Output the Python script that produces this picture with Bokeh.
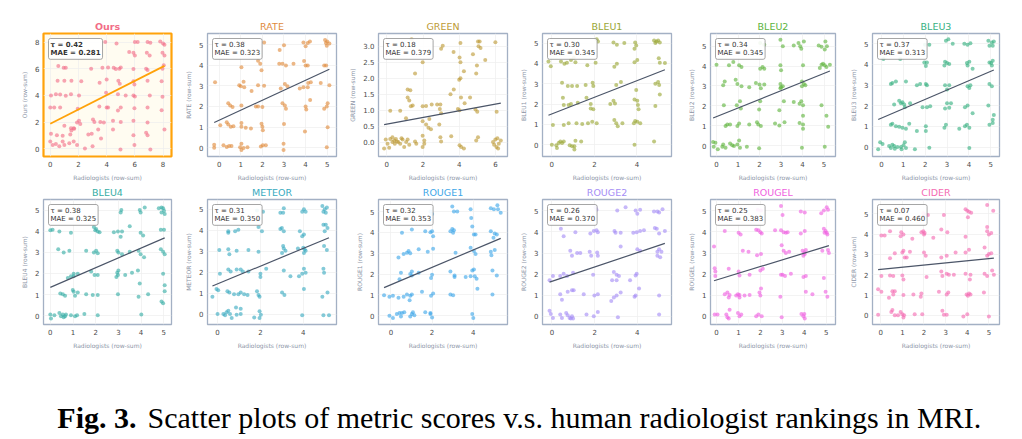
from bokeh.plotting import figure
from bokeh.layouts import row, column
from bokeh.models import Label, Range1d, FixedTicker, PrintfTickFormatter
from bokeh.embed import file_html
from bokeh.resources import INLINE
from bokeh.core.properties import value

# ---------------------------------------------------------------- data
PANELS = ["Ours", "RATE", "GREEN", "BLEU1", "BLEU2", "BLEU3",
          "BLEU4", "METEOR", "ROUGE1", "ROUGE2", "ROUGEL", "CIDER"]

TAU = [0.42, 0.38, 0.18, 0.30, 0.34, 0.37, 0.38, 0.31, 0.32, 0.26, 0.25, 0.07]
MAE = [0.281, 0.323, 0.379, 0.345, 0.345, 0.313, 0.325, 0.350, 0.353, 0.370, 0.383, 0.460]

# fitted regression line for each metric (intercept, slope)
FIT_INTERCEPT = [1.88, 1.33, 0.566, 1.515, 1.454, 1.40, 1.34, 1.44, 1.49, 1.655, 1.72, 2.27]
FIT_SLOPE = [0.535, 0.485, 0.104, 0.408, 0.436, 0.454, 0.465, 0.424, 0.417, 0.341, 0.319, 0.105]

# (radiologist row-sum, metric row-sum) per case, with jitter
OURS_POINTS = [
    (3.9, 8.0), (4.7, 7.9), (6.0, 8.0), (6.2, 8.0), (6.9, 8.0), (7.1, 7.95), (7.8, 8.05), (8.0, 7.9), (8.1, 7.8),
    (0.45, 7.1), (5.6, 7.26), (5.9, 7.2), (6.0, 7.0), (6.85, 7.2), (7.05, 7.0), (7.96, 7.2), (8.1, 7.0),
    (0.57, 6.2), (0.95, 6.07), (1.1, 6.07), (2.9, 6.0), (3.7, 6.07), (4.1, 6.1), (4.5, 6.07), (4.65, 5.98),
    (4.9, 6.0), (5.0, 6.1), (5.9, 5.98), (6.8, 6.0), (6.9, 5.9), (7.96, 6.0), (8.05, 6.26),
    (0.52, 5.1), (1.0, 5.1), (1.5, 5.1), (2.2, 5.07), (3.5, 4.95), (4.0, 5.2), (4.83, 5.1), (4.93, 4.88),
    (5.9, 5.07), (5.97, 4.83), (6.9, 5.1), (7.9, 5.07),
    (0.05, 4.0), (0.4, 4.1), (0.7, 4.07), (1.1, 3.98), (1.47, 4.1), (2.04, 4.0), (3.96, 4.2), (4.8, 4.1),
    (5.35, 4.0), (5.9, 4.0), (6.0, 3.93), (7.06, 4.0), (7.96, 3.9),
    (0.0, 3.1), (0.28, 3.1), (0.7, 3.1), (1.95, 3.0), (3.48, 3.17), (4.0, 3.1), (4.1, 3.1), (4.8, 2.88),
    (5.0, 3.1), (5.97, 3.05), (6.9, 3.1), (7.9, 2.9),
    (1.0, 1.74), (1.47, 1.55), (1.66, 1.55), (1.9, 1.98), (2.04, 2.1), (2.13, 1.86), (3.03, 2.2), (3.13, 2.02),
    (3.55, 2.02), (3.8, 1.98), (4.45, 2.1), (5.0, 2.02), (5.9, 2.1), (6.9, 1.98),
    (0.05, 1.14), (0.47, 1.02), (0.88, 0.98), (1.42, 1.07), (1.5, 1.38), (1.7, 1.5), (2.7, 1.07), (2.94, 1.14),
    (3.4, 1.45), (4.45, 1.45), (5.9, 1.02), (6.8, 1.21), (6.9, 1.02), (8.1, 1.45),
    (0.0, 0.55), (0.17, 0.3), (0.4, 0.36), (0.64, 0.19), (1.0, 0.3), (1.35, 0.43), (1.66, 0.55), (1.9, 0.3),
    (2.46, 0.02), (3.0, 0.19), (3.6, 0.78), (4.98, -0.05), (5.97, 0.3), (7.1, -0.05), (0.88, 0.55),
]

RATE_POINTS = [
    (1.13, 5.1), (2.08, 5.1), (3.0, 4.97), (2.8, 4.74), (3.9, 5.1), (4.1, 5.08), (4.2, 5.15), (4.0, 4.92),
    (4.9, 5.23), (4.94, 5.08), (5.0, 5.15), (5.1, 5.05), (4.98, 4.95),
    (1.03, 3.9), (1.8, 4.22), (1.9, 4.07), (1.96, 3.76), (2.78, 4.07), (2.93, 4.07), (3.09, 3.99), (3.44, 4.07),
    (3.93, 4.2), (4.0, 3.99), (4.1, 3.99), (4.86, 3.99), (4.95, 3.99),
    (-0.19, 3.17), (0.93, 3.03), (1.0, 2.98), (1.13, 3.2), (1.16, 2.93), (1.5, 2.75), (1.8, 3.03), (2.08, 3.01),
    (3.04, 3.09), (3.16, 2.98), (2.85, 2.87), (3.73, 2.87), (3.9, 2.93), (4.1, 2.93), (4.12, 3.14), (4.24, 3.17),
    (4.7, 3.14), (5.1, 3.03),
    (0.42, 2.16), (0.51, 2.05), (0.62, 1.97), (1.03, 2.05), (1.7, 2.0), (1.8, 2.0), (2.0, 1.97), (2.93, 2.16),
    (3.04, 2.05), (3.09, 1.89), (4.0, 2.0), (4.03, 1.85), (4.21, 2.31), (4.86, 1.89), (4.98, 2.0), (5.02, 2.16),
    (0.05, 1.09), (0.35, 1.23), (0.42, 1.12), (0.54, 1.01), (0.66, 1.04), (1.03, 1.2), (1.03, 1.01), (1.23, 0.96),
    (1.47, 0.93), (1.96, 1.16), (2.0, 1.01), (2.02, 0.84), (3.0, 1.15), (3.97, 0.78), (5.02, 0.99),
    (-0.23, 0.14), (-0.23, 0.0), (0.2, 0.11), (0.35, 0.03), (0.46, 0.08), (0.57, 0.08), (0.97, 0.02), (1.03, 0.19),
    (1.03, -0.12), (1.13, -0.02), (1.31, 0.02), (1.93, 0.06), (2.02, 0.11), (2.16, 0.11), (2.98, 0.19),
    (2.98, -0.12), (4.98, 0.02),
]

GREEN_POINTS = [
    (1.37, 3.22), (1.98, 2.5), (1.56, 2.15), (3.0, 2.92), (3.09, 3.02), (3.69, 2.82), (4.07, 3.1), (4.02, 2.65),
    (4.07, 2.5), (4.26, 2.22), (4.76, 2.75), (5.04, 3.15), (5.13, 3.15), (5.07, 3.0), (5.18, 2.95), (4.98, 2.4),
    (4.94, 2.15), (5.44, 2.57), (6.0, 3.13), (4.0, 1.95), (4.07, 2.0), (3.7, 1.65), (3.52, 1.5), (4.1, 1.4),
    (4.3, 1.22), (4.6, 1.4), (3.93, 1.04), (4.02, 1.0), (4.9, 1.02), (5.0, 0.95), (6.07, 0.95),
    (0.19, 0.98), (0.74, 0.98), (1.06, 0.75), (1.15, 1.65), (1.3, 1.62), (1.15, 1.4), (1.24, 1.3), (1.33, 1.12),
    (1.43, 1.15), (1.98, 1.12), (2.17, 1.13), (2.48, 1.18), (2.78, 1.18), (2.93, 1.04), (2.96, 1.18), (3.0, 0.9),
    (1.98, 0.65), (2.17, 0.55), (2.3, 0.45), (2.44, 0.4), (2.9, 0.55), (2.35, 0.72),
    (-0.06, 0.08), (0.04, -0.05), (0.13, -0.18), (0.19, 0.1), (0.31, 0.0), (0.41, 0.05), (0.44, -0.05),
    (0.5, 0.1), (0.56, 0.02), (0.63, 0.0), (0.74, -0.05), (0.87, 0.08), (0.96, -0.15), (1.07, 0.0), (1.15, 0.08),
    (0.31, 0.15), (0.81, 0.12), (1.24, -0.08), (1.56, 0.02), (1.63, -0.05), (1.98, 0.2), (2.07, 0.05),
    (1.98, -0.15), (2.07, -0.05), (3.0, 0.02), (2.96, 0.15), (3.56, 0.18), (4.02, -0.1), (4.11, -0.15),
    (4.26, -0.2), (4.94, 0.05), (5.04, 0.15), (5.87, 0.0), (5.93, -0.08), (6.0, 0.08), (6.06, -0.15),
    (6.11, 0.12), (6.19, -0.05), (6.3, 0.05), (6.15, -0.2), (-0.15, -0.2),
]

BLEU1_POINTS = [
    (2.11, 5.19), (2.17, 5.08), (2.9, 5.03), (3.06, 4.92), (3.41, 5.0), (3.92, 5.03), (3.97, 4.88), (3.89, 4.72),
    (4.81, 5.13), (4.92, 5.08), (5.0, 5.13), (5.08, 5.03), (4.87, 5.0),
    (-0.16, 4.09), (-0.05, 3.86), (0.43, 4.09), (0.59, 3.98), (0.71, 4.03), (0.9, 4.17), (1.03, 4.28),
    (1.11, 4.06), (1.67, 3.91), (2.06, 4.03), (2.94, 3.83), (3.06, 3.98), (3.89, 4.06), (4.02, 4.17),
    (5.03, 4.25), (5.08, 4.03), (5.32, 4.02),
    (0.48, 3.05), (0.75, 2.89), (0.95, 2.89), (1.19, 2.89), (1.59, 2.94), (1.92, 3.05), (1.95, 2.89),
    (3.03, 2.94), (3.25, 3.09), (3.97, 2.69), (4.87, 3.0), (5.0, 3.09), (5.05, 2.94),
    (0.52, 2.31), (0.56, 1.95), (0.79, 1.95), (0.9, 2.0), (1.22, 2.06), (1.63, 2.31), (1.83, 2.0), (1.83, 1.78),
    (1.95, 1.75), (2.75, 2.0), (2.9, 2.16), (2.97, 2.03), (3.89, 2.22), (4.02, 2.16), (4.05, 1.95),
    (4.08, 1.75), (4.87, 1.91), (5.08, 2.47),
    (0.05, 0.97), (0.56, 0.97), (0.79, 1.06), (1.16, 1.06), (1.43, 1.02), (1.7, 1.06), (1.9, 1.13), (2.11, 1.06),
    (2.94, 1.22), (3.03, 1.06), (3.1, 0.91), (3.32, 1.06), (3.86, 1.06), (3.92, 1.17), (4.02, 1.13), (4.16, 1.06),
    (0.0, 0.0), (0.21, -0.03), (0.32, 0.08), (0.4, 0.16), (0.48, 0.08), (0.56, 0.16), (0.24, -0.16),
    (0.84, -0.03), (0.95, -0.08), (1.06, -0.08), (1.11, 0.19), (1.06, -0.23), (1.38, 0.16), (3.89, 0.0),
    (4.81, 0.16),
]

BLEU2_POINTS = [
    (2.03, 5.16), (2.22, 5.08), (2.97, 5.32), (3.08, 5.0), (3.59, 5.03), (3.81, 5.16), (3.89, 5.0), (3.94, 4.87),
    (4.06, 5.24), (4.75, 5.03), (4.88, 4.97), (5.06, 5.24), (5.13, 5.0), (5.03, 4.84),
    (0.0, 4.07), (0.58, 4.04), (0.78, 4.2), (1.05, 4.04), (1.16, 3.95), (2.03, 3.87), (2.14, 3.95), (2.22, 3.87),
    (2.97, 4.04), (3.0, 3.79), (4.02, 4.04), (4.8, 3.91), (4.88, 4.07), (4.95, 4.12), (5.03, 4.04), (5.11, 3.95),
    (5.27, 4.07),
    (0.31, 3.04), (0.38, 3.23), (0.89, 3.31), (0.97, 3.1), (1.16, 2.99), (1.52, 2.94), (1.83, 3.15), (2.0, 3.07),
    (2.06, 2.88), (2.22, 3.07), (2.97, 3.1), (3.0, 2.94), (3.08, 2.99), (2.97, 2.88), (3.97, 3.23), (4.06, 3.1),
    (3.97, 2.99), (4.13, 3.04),
    (0.34, 2.03), (0.94, 2.03), (1.09, 2.23), (1.13, 1.86), (1.98, 1.82), (2.03, 2.23), (2.92, 1.78), (3.13, 2.23),
    (3.59, 2.19), (3.86, 2.11), (3.94, 2.23), (4.02, 2.03), (4.02, 1.5), (4.88, 2.03), (5.11, 1.5),
    (0.42, 0.98), (0.5, 1.06), (0.63, 1.06), (0.97, 0.98), (1.05, 1.11), (1.52, 1.06), (1.88, 1.17), (1.94, 1.06),
    (2.06, 0.98), (2.72, 1.11), (2.92, 1.01), (3.16, 1.17), (3.86, 1.14), (4.02, 1.06), (4.02, 0.85), (5.19, 0.95),
    (-0.16, 0.18), (-0.05, 0.14), (-0.13, -0.06), (0.06, -0.18), (0.27, -0.06), (0.31, 0.05), (0.42, -0.11),
    (0.63, 0.1), (0.73, 0.02), (0.81, -0.02), (0.97, 0.05), (1.05, 0.26), (1.09, -0.11), (1.41, -0.06),
    (1.98, -0.14), (3.97, -0.11), (5.03, -0.06),
]

BLEU3_POINTS = [
    (1.99, 4.95), (2.19, 4.95), (2.95, 5.15), (3.06, 5.22), (3.26, 5.0), (3.79, 5.0), (3.94, 4.95), (4.07, 5.03),
    (4.89, 5.15), (4.94, 4.91), (5.05, 5.06), (5.09, 4.91), (5.14, 5.11),
    (0.09, 4.26), (0.86, 4.26), (1.96, 4.1), (2.08, 4.1), (2.03, 3.92), (2.91, 4.13), (3.0, 4.07), (3.1, 4.02),
    (2.88, 3.95), (3.91, 4.07), (4.02, 4.13), (3.94, 3.95), (4.17, 3.79), (4.94, 4.1), (5.02, 4.07),
    (5.09, 4.18), (5.05, 3.95),
    (0.43, 3.05), (0.5, 3.1), (0.66, 3.17), (1.12, 3.17), (1.62, 2.99), (1.77, 3.05), (2.03, 3.05), (2.08, 2.99),
    (2.91, 2.99), (3.0, 2.79), (3.1, 2.99), (3.94, 2.94), (4.02, 2.86), (4.07, 2.99), (4.94, 3.05), (5.05, 2.94),
    (0.58, 2.06), (0.81, 2.24), (0.89, 2.12), (0.96, 2.17), (1.04, 2.06), (1.07, 1.93), (1.31, 2.12),
    (1.88, 1.93), (2.08, 1.93), (2.23, 1.97), (2.91, 1.86), (3.0, 2.12), (3.1, 1.9), (3.18, 2.12), (3.82, 1.93),
    (3.94, 2.01), (4.17, 1.63), (4.89, 2.01), (5.14, 1.55), (5.09, 1.32),
    (0.43, 1.08), (0.5, 1.13), (0.66, 1.01), (0.81, 0.98), (0.96, 0.93), (1.12, 0.88), (1.27, 1.13),
    (1.62, 0.77), (2.03, 1.01), (2.03, 0.77), (2.88, 0.93), (2.95, 1.08), (3.56, 0.88), (3.82, 1.01),
    (3.91, 1.08), (4.02, 0.93), (4.94, 1.08), (5.09, 1.16),
    (-0.15, -0.11), (-0.06, 0.23), (0.05, 0.15), (0.35, 0.05), (0.43, -0.05), (0.5, 0.11), (0.58, 0.05),
    (0.61, -0.08), (0.73, 0.0), (0.92, -0.11), (1.01, 0.08), (1.07, 0.23), (1.12, -0.05), (1.53, -0.11),
    (2.19, -0.03), (4.02, -0.05), (0.89, 0.0),
]

BLEU4_POINTS = [
    (3.1, 4.88), (3.13, 5.0), (3.94, 5.0), (3.98, 4.88), (4.16, 5.12), (4.78, 5.08), (4.9, 5.12), (4.97, 5.08),
    (5.01, 4.97), (4.9, 4.88), (5.04, 4.81),
    (0.0, 4.04), (0.1, 4.07), (0.4, 3.99), (0.91, 3.92), (1.92, 4.2), (2.02, 4.1), (2.09, 3.99), (2.17, 3.95),
    (1.98, 4.04), (2.8, 3.95), (2.98, 3.99), (3.1, 3.73), (3.16, 3.99), (3.5, 4.23), (3.98, 3.92), (4.09, 3.79),
    (4.87, 4.07), (5.01, 4.07),
    (0.35, 3.14), (0.59, 2.99), (0.84, 3.07), (1.58, 3.07), (1.92, 2.99), (2.02, 3.07), (2.09, 2.96),
    (2.95, 3.07), (3.0, 2.99), (3.16, 2.91), (3.5, 3.02), (3.89, 3.07), (3.98, 2.91), (4.13, 2.76),
    (4.87, 3.14), (4.97, 3.02), (5.04, 2.91),
    (0.77, 1.78), (0.91, 1.87), (1.03, 1.87), (1.03, 1.98), (1.21, 1.98), (1.8, 2.09), (1.95, 1.93), (2.09, 1.93),
    (2.91, 1.83), (2.95, 2.03), (3.0, 2.14), (2.98, 1.93), (3.3, 1.93), (3.6, 2.03), (3.86, 2.14), (3.94, 1.52),
    (4.97, 1.98), (5.04, 1.44),
    (0.44, 1.05), (0.55, 1.01), (0.65, 0.94), (0.99, 1.21), (1.03, 1.13), (1.09, 0.94), (1.21, 1.1), (1.58, 1.01),
    (1.87, 0.98), (2.09, 0.98), (2.98, 1.01), (3.89, 0.9), (4.31, 1.01), (5.04, 1.16), (4.9, 0.67), (4.97, 0.59),
    (0.0, 0.05), (0.03, -0.14), (0.18, 0.02), (0.4, 0.12), (0.47, -0.03), (0.55, 0.05), (0.59, -0.08),
    (0.69, 0.05), (0.91, 0.02), (1.09, -0.03), (1.18, 0.02), (1.5, 0.08), (2.09, 0.02), (4.01, 0.05),
    (0.65, -0.03),
]

METEOR_POINTS = [
    (1.84, 4.94), (2.12, 4.89), (2.93, 4.84), (3.06, 4.84), (3.09, 5.05), (3.95, 4.89), (4.03, 5.0), (4.11, 4.89),
    (4.89, 5.16), (5.0, 5.0), (4.94, 4.89), (5.05, 4.84), (5.1, 5.09),
    (0.5, 3.95), (0.5, 3.88), (0.82, 3.95), (0.97, 4.03), (1.91, 4.16), (2.07, 3.95), (2.93, 4.06), (3.0, 4.11),
    (3.09, 3.95), (3.84, 3.95), (3.95, 3.72), (4.03, 3.8), (4.94, 4.27), (5.05, 4.27), (5.0, 3.95), (5.13, 4.11),
    (0.08, 3.06), (0.5, 3.09), (0.55, 2.86), (0.89, 3.02), (1.44, 3.06), (1.91, 2.97), (3.06, 3.25), (3.09, 3.13),
    (3.17, 3.02), (3.01, 2.91), (3.75, 3.13), (4.0, 3.17), (4.06, 3.09), (4.11, 3.02), (4.03, 2.91),
    (4.97, 3.25), (5.1, 3.06),
    (0.11, 1.92), (0.5, 2.13), (0.61, 2.03), (0.89, 2.13), (1.08, 2.13), (1.18, 2.03), (1.44, 2.03), (2.0, 1.92),
    (2.0, 1.77), (2.27, 2.16), (3.09, 2.08), (3.4, 1.81), (3.8, 1.81), (3.95, 1.92), (4.03, 2.16), (4.11, 1.97),
    (4.94, 2.16), (4.97, 1.97),
    (-0.24, 0.83), (-0.05, 1.19), (0.03, 1.14), (0.46, 1.09), (0.55, 1.03), (0.77, 0.94), (0.97, 0.94),
    (1.08, 1.03), (1.24, 0.94), (1.4, 0.91), (1.84, 1.09), (1.91, 0.91), (1.96, 0.83), (3.01, 1.03),
    (3.12, 0.91), (4.03, 1.19), (4.89, 0.83), (5.13, 1.03),
    (0.0, 0.0), (0.35, -0.06), (0.42, 0.09), (0.5, 0.16), (0.58, 0.0), (0.66, -0.19), (0.86, 0.31),
    (0.89, -0.03), (1.08, 0.0), (1.08, 0.25), (1.71, -0.16), (1.96, 0.13), (2.02, -0.03), (1.96, -0.19),
    (3.95, -0.06), (4.94, -0.06), (5.2, -0.06), (0.27, 0.0),
]

ROUGE1_POINTS = [
    (1.92, 5.0), (2.0, 4.89), (2.98, 5.24), (3.06, 5.0), (3.22, 5.0), (3.87, 5.11), (3.9, 4.69), (4.85, 5.16),
    (5.0, 5.11), (5.17, 5.31), (5.2, 5.11), (5.33, 4.95),
    (0.54, 3.98), (1.02, 4.14), (1.67, 4.06), (1.92, 4.01), (2.0, 4.06), (2.05, 3.82), (2.89, 4.06), (2.98, 4.17),
    (3.06, 4.1), (3.02, 3.98), (3.95, 4.29), (4.03, 3.9), (4.11, 3.9), (4.85, 4.06), (5.04, 3.95), (5.14, 3.9),
    (4.98, 3.74),
    (0.37, 2.8), (0.62, 2.96), (0.78, 3.03), (0.86, 3.11), (0.94, 3.0), (1.35, 3.19), (1.79, 3.07), (2.05, 3.22),
    (3.14, 3.03), (3.87, 3.27), (4.03, 3.11), (4.11, 2.96), (4.85, 3.07), (4.88, 2.91), (5.04, 3.16),
    (0.42, 1.75), (0.49, 2.06), (0.94, 2.01), (1.02, 2.12), (1.02, 1.93), (1.35, 2.06), (1.95, 1.81), (2.0, 1.97),
    (2.89, 2.12), (3.09, 1.93), (3.09, 1.86), (3.63, 1.86), (3.87, 1.9), (3.95, 2.17), (4.03, 2.22), (4.07, 1.9),
    (4.16, 1.78), (4.93, 2.17), (5.14, 1.93), (4.2, 1.3),
    (-0.33, 0.99), (-0.07, 0.91), (0.1, 0.96), (0.37, 0.86), (0.62, 0.91), (0.78, 1.02), (0.94, 0.96),
    (1.02, 1.02), (0.91, 0.75), (1.51, 1.15), (1.95, 0.96), (2.05, 1.07), (2.89, 1.02), (3.02, 0.99),
    (4.93, 1.02),
    (-0.07, 0.0), (0.1, -0.11), (0.29, 0.08), (0.42, 0.13), (0.49, -0.03), (0.54, 0.13), (0.65, 0.17),
    (0.94, -0.03), (1.02, 0.08), (1.07, 0.17), (1.14, 0.02), (1.67, 0.17), (1.92, 0.08), (2.0, -0.08),
    (1.92, 0.13), (3.95, 0.08), (4.0, -0.11),
]

ROUGE2_POINTS = [
    (2.04, 5.17), (2.09, 5.05), (3.06, 5.02), (3.45, 5.17), (3.92, 5.02), (4.0, 4.86), (4.13, 5.05), (4.78, 4.97),
    (4.94, 4.97), (5.02, 4.92), (5.18, 5.08),
    (0.42, 4.15), (0.55, 3.8), (1.1, 3.99), (1.8, 3.93), (1.96, 4.04), (2.09, 4.08), (2.15, 3.99), (2.93, 4.04),
    (2.98, 3.96), (3.22, 3.96), (3.81, 3.96), (3.97, 3.99), (4.13, 4.04), (4.31, 4.08), (4.82, 4.19),
    (4.91, 4.15), (5.02, 3.93), (5.29, 4.04),
    (0.86, 3.11), (0.94, 2.87), (1.18, 3.0), (1.33, 3.0), (1.77, 3.06), (1.84, 2.87), (2.12, 3.03), (2.15, 2.87),
    (3.22, 3.31), (4.0, 3.18), (4.13, 3.11), (4.94, 3.06), (5.02, 3.18), (5.13, 3.06), (4.94, 2.87), (5.07, 2.8),
    (-0.11, 1.71), (0.05, 1.91), (0.39, 1.91), (0.55, 2.02), (0.71, 1.91), (0.99, 2.07), (1.93, 1.97),
    (2.9, 2.1), (3.03, 1.97), (2.82, 1.71), (3.03, 1.71), (3.14, 1.91), (3.66, 1.71), (3.92, 1.94), (3.97, 2.02),
    (0.39, 1.04), (0.47, 0.78), (0.74, 1.16), (0.94, 1.24), (1.02, 1.24), (1.49, 1.04), (1.99, 0.98),
    (2.15, 1.04), (2.78, 0.73), (2.9, 0.89), (3.03, 0.98), (3.22, 1.13), (3.87, 0.93), (3.92, 0.98),
    (4.08, 1.32), (5.02, 0.98),
    (-0.11, 0.26), (-0.05, 0.11), (0.05, -0.08), (0.39, 0.08), (0.47, -0.08), (0.67, 0.16), (0.74, 0.05),
    (0.83, -0.08), (0.94, 0.0), (0.89, -0.11), (0.99, -0.11), (1.62, 0.08), (1.96, 0.0), (2.15, 0.2),
    (3.09, -0.05), (5.02, 0.08),
]

ROUGEL_POINTS = [
    (1.88, 5.05), (2.03, 5.02), (2.94, 5.23), (3.01, 4.81), (3.84, 4.97), (4.02, 4.92), (4.77, 4.89),
    (4.89, 5.02), (5.02, 5.17), (5.08, 5.05),
    (0.38, 4.04), (1.01, 3.96), (1.1, 3.88), (1.81, 4.11), (1.91, 4.08), (2.0, 3.99), (2.06, 3.93), (2.67, 4.08),
    (2.94, 4.08), (3.06, 3.99), (3.16, 3.96), (3.24, 3.99), (3.84, 3.93), (4.02, 4.04), (4.89, 4.15),
    (4.97, 4.04), (5.02, 3.96), (5.05, 3.88), (4.92, 3.96),
    (-0.11, 3.31), (1.2, 3.11), (1.46, 3.06), (1.85, 2.9), (2.03, 2.95), (2.97, 3.37), (3.06, 3.11), (3.16, 3.0),
    (3.31, 3.06), (3.92, 3.11), (4.0, 3.03), (4.02, 2.95), (4.07, 3.15), (3.96, 2.87), (4.82, 3.11),
    (5.08, 3.15), (5.12, 3.0),
    (-0.08, 2.28), (-0.05, 2.13), (-0.05, 1.91), (0.56, 2.25), (1.01, 2.13), (1.05, 1.94), (1.51, 1.97),
    (2.0, 2.17), (2.11, 2.25), (2.94, 1.97), (3.01, 1.97), (3.12, 1.91), (3.39, 2.02), (3.96, 1.86),
    (4.07, 1.91), (4.89, 1.82),
    (0.38, 1.04), (0.5, 1.13), (0.56, 0.89), (0.6, 1.01), (0.9, 0.98), (0.98, 1.04), (1.05, 1.01), (1.05, 0.89),
    (1.28, 0.98), (1.51, 1.01), (1.96, 1.13), (2.0, 0.98), (2.03, 1.32), (2.91, 0.93), (4.07, 1.16),
    (4.37, 1.04), (4.97, 1.16), (5.05, 0.93),
    (-0.08, 0.08), (0.05, 0.08), (0.45, 0.08), (0.5, -0.05), (0.6, 0.31), (0.56, -0.11), (0.98, 0.16),
    (1.05, 0.0), (1.13, 0.08), (1.81, 0.0), (1.91, 0.08), (2.06, 0.0), (2.97, -0.05), (3.87, 0.11), (4.0, 0.11),
    (4.02, -0.11), (3.96, 0.0),
]

CIDER_POINTS = [
    (1.97, 5.03), (2.08, 4.95), (2.18, 4.95), (2.92, 4.95), (3.92, 5.23), (4.0, 5.16), (4.08, 5.11), (4.18, 5.06),
    (4.03, 4.84), (4.92, 5.44), (5.2, 5.16),
    (0.03, 3.94), (0.18, 3.94), (0.43, 4.15), (0.95, 4.1), (0.92, 3.9), (1.05, 3.98), (1.46, 3.77), (1.88, 4.1),
    (1.97, 4.15), (2.03, 4.06), (2.0, 3.98), (2.43, 3.82), (2.8, 4.23), (3.08, 4.1), (3.92, 3.87), (4.92, 4.15),
    (5.0, 3.98), (5.11, 4.06), (4.92, 4.35),
    (0.43, 2.81), (0.65, 3.06), (1.0, 3.1), (1.05, 3.18), (1.11, 2.85), (1.2, 2.85), (1.35, 3.13), (2.0, 3.1),
    (2.08, 2.94), (2.8, 2.85), (3.05, 2.94), (3.46, 3.1), (3.92, 3.1), (4.08, 3.23), (4.8, 3.34), (4.92, 2.94),
    (5.0, 3.02), (5.11, 3.06),
    (0.03, 1.94), (0.43, 1.97), (0.58, 1.94), (1.0, 1.97), (1.05, 1.77), (2.12, 1.89), (2.8, 2.16), (2.85, 1.94),
    (3.05, 2.05), (3.15, 2.0), (3.38, 2.0), (3.92, 2.05), (4.15, 2.0), (4.12, 1.77), (4.8, 2.05), (4.92, 1.94),
    (5.15, 2.21), (5.23, 2.0),
    (-0.12, 1.29), (0.03, 1.16), (0.38, 0.87), (0.54, 1.19), (0.65, 1.19), (0.58, 1.03), (1.05, 1.0),
    (1.51, 1.03), (1.85, 0.92), (1.88, 1.08), (2.69, 1.16), (3.05, 1.03), (3.12, 1.13), (3.97, 1.03),
    (4.03, 0.97), (4.08, 1.08), (4.15, 1.03), (4.77, 1.13),
    (-0.12, 0.03), (0.49, 0.16), (0.54, 0.27), (0.65, 0.0), (0.8, 0.0), (0.92, 0.16), (1.0, 0.06), (1.05, -0.1),
    (1.08, 0.0), (1.57, 0.06), (1.92, 0.06), (2.85, 0.23), (2.92, 0.03), (3.05, 0.03), (3.82, -0.05),
    (4.0, 0.06), (5.0, -0.05),
]

POINTS = [OURS_POINTS, RATE_POINTS, GREEN_POINTS, BLEU1_POINTS, BLEU2_POINTS, BLEU3_POINTS,
          BLEU4_POINTS, METEOR_POINTS, ROUGE1_POINTS, ROUGE2_POINTS, ROUGEL_POINTS, CIDER_POINTS]

# tick positions per panel
TICKS_0_8 = [0, 2, 4, 6, 8]
TICKS_0_5 = [0, 1, 2, 3, 4, 5]
TICKS_EVEN5 = [0, 2, 4]
X_TICKS = [TICKS_0_8, TICKS_0_5, [0, 2, 4, 6], TICKS_EVEN5, TICKS_0_5, TICKS_0_5,
           TICKS_0_5, TICKS_EVEN5, TICKS_EVEN5, TICKS_EVEN5, TICKS_0_5, TICKS_0_5]
Y_TICKS = [TICKS_0_8, TICKS_0_5, [0, 0.5, 1.0, 1.5, 2.0, 2.5, 3.0], TICKS_0_5, TICKS_0_5, TICKS_0_5,
           TICKS_0_5, TICKS_0_5, TICKS_0_5, TICKS_0_5, TICKS_0_5, TICKS_0_5]

CAPTION_LEAD = "Fig. 3."
CAPTION_TEXT = "Scatter plots of metric scores v.s. human radiologist rankings in MRI."

# ---------------------------------------------------------------- style / layout
COLORS = ["#f26d87", "#e08a3c", "#bd9a35", "#9aa634", "#5db33c", "#36b07f",
          "#36ada4", "#38aac0", "#3ea6e8", "#a58df5", "#ef5fe0", "#f46bb2"]

X_LIMITS = [(-0.48, 8.6), (-0.54, 5.43), (-0.46, 6.67), (-0.44, 5.63), (-0.28, 5.53), (-0.41, 5.4),
            (-0.3, 5.34), (-0.47, 5.55), (-0.6, 5.66), (-0.44, 5.6), (-0.27, 5.42), (-0.38, 5.49)]
Y_LIMITS = [(-0.57, 8.64), (-0.43, 5.54), (-0.45, 3.4), (-0.58, 5.47), (-0.55, 5.64), (-0.46, 5.5),
            (-0.42, 5.5), (-0.5, 5.47), (-0.42, 5.58), (-0.39, 5.54), (-0.39, 5.54), (-0.45, 5.71)]

COL_WIDTHS = [176, 170, 168, 168, 164, 176]
BORDER_LEFT = [43, 31, 32, 28, 28, 26]
BORDER_RIGHT = [5, 10, 7, 11, 11, 23]
ROW_HEIGHTS = [183, 168]
BORDER_TOP = [33, 16]
BORDER_BOTTOM = [21, 24]

FONT = "DejaVu Sans"
SERIF = "Liberation Serif"
FRAME_COLOR = "#a3b0c4"
LINE_COLOR = "#4b5568"
HIGHLIGHT = "#ffa20a"


def make_panel(i):
    r, c = divmod(i, 6)
    name = PANELS[i]
    xs = [pt[0] for pt in POINTS[i]]
    ys = [pt[1] for pt in POINTS[i]]
    ours = (i == 0)

    p = figure(width=COL_WIDTHS[c], height=ROW_HEIGHTS[r],
               x_range=Range1d(*X_LIMITS[i]), y_range=Range1d(*Y_LIMITS[i]),
               output_backend="svg", toolbar_location=None,
               min_border_left=BORDER_LEFT[c], min_border_right=BORDER_RIGHT[c],
               min_border_top=BORDER_TOP[r], min_border_bottom=BORDER_BOTTOM[r],
               background_fill_color="#fffcf1" if ours else "white",
               border_fill_color="white")

    p.title.text = name
    p.title.align = "center"
    p.title.text_font = FONT
    p.title.text_font_size = "9.5px"
    p.title.text_color = COLORS[i]
    p.title.text_font_style = "bold" if ours else "normal"
    p.title.standoff = 3

    p.outline_line_color = HIGHLIGHT if ours else FRAME_COLOR
    p.outline_line_width = 2.2 if ours else 1.3
    p.outline_line_alpha = 1.0

    p.xaxis.ticker = FixedTicker(ticks=X_TICKS[i])
    p.yaxis.ticker = FixedTicker(ticks=Y_TICKS[i])
    if name == "GREEN":
        p.yaxis.formatter = PrintfTickFormatter(format="%.1f")
    p.xaxis.axis_label = "Radiologists (row-sum)"
    p.yaxis.axis_label = f"{name} (row-sum)"
    for ax in (p.xaxis[0], p.yaxis[0]):
        ax.axis_line_color = None
        ax.major_tick_out = 0
        ax.major_tick_in = 0
        ax.minor_tick_line_color = None
        ax.major_label_text_font = FONT
        ax.major_label_text_font_size = "7px"
        ax.major_label_text_color = "#4a4a4a"
        ax.major_label_standoff = 4
        ax.axis_label_text_font = FONT
        ax.axis_label_text_font_size = "6px"
        ax.axis_label_text_font_style = "normal"
        ax.axis_label_text_color = "#8b94a6"
        ax.axis_label_standoff = 4

    p.xgrid.grid_line_color = "#eeeeee"
    p.ygrid.grid_line_color = "#eeeeee"
    p.xgrid.grid_line_width = 0.7
    p.ygrid.grid_line_width = 0.7

    p.scatter(xs, ys, size=4, fill_color=COLORS[i], fill_alpha=0.62, line_color=None)

    x0, x1 = min(xs), max(xs)
    a, b = FIT_INTERCEPT[i], FIT_SLOPE[i]
    p.line([x0, x1], [a + b * x0, a + b * x1],
           line_color=HIGHLIGHT if ours else LINE_COLOR,
           line_width=1.8 if ours else 1.2)

    stats = Label(x=X_LIMITS[i][0], y=Y_LIMITS[i][1], x_offset=5, y_offset=-5,
                  text=f"\u03c4 = {TAU[i]:.2f}\nMAE = {MAE[i]:.3f}",
                  text_font=FONT, text_font_size="7px",
                  text_font_style="bold" if ours else "normal",
                  text_color="#333333", text_baseline="top", text_align="left",
                  text_line_height=1.1,
                  background_fill_color="white", background_fill_alpha=0.9,
                  border_line_color="#8f8f8f", border_line_width=0.8,
                  border_radius=2, padding=2)
    p.add_layout(stats)
    return p


panels = [make_panel(i) for i in range(12)]

# caption below the grid
cap = figure(width=1022, height=88, x_range=Range1d(0, 1022), y_range=Range1d(0, 88),
             output_backend="svg", toolbar_location=None,
             min_border_left=0, min_border_right=0, min_border_top=0, min_border_bottom=0)
cap.axis.visible = False
cap.grid.visible = False
cap.outline_line_color = None
cap.text(x=[136], y=[22], text=[CAPTION_LEAD], text_font=value(SERIF),
         text_font_size="30px", text_font_style="bold", text_align="right",
         text_baseline="alphabetic", text_color="black")
cap.text(x=[147], y=[22], text=[CAPTION_TEXT],
         text_font=value(SERIF), text_font_size="30px",
         text_align="left", text_baseline="alphabetic", text_color="black")

layout = column(row(*panels[:6]), row(*panels[6:]), cap)

with open("out.html", "w") as f:
    f.write(file_html(layout, INLINE))
